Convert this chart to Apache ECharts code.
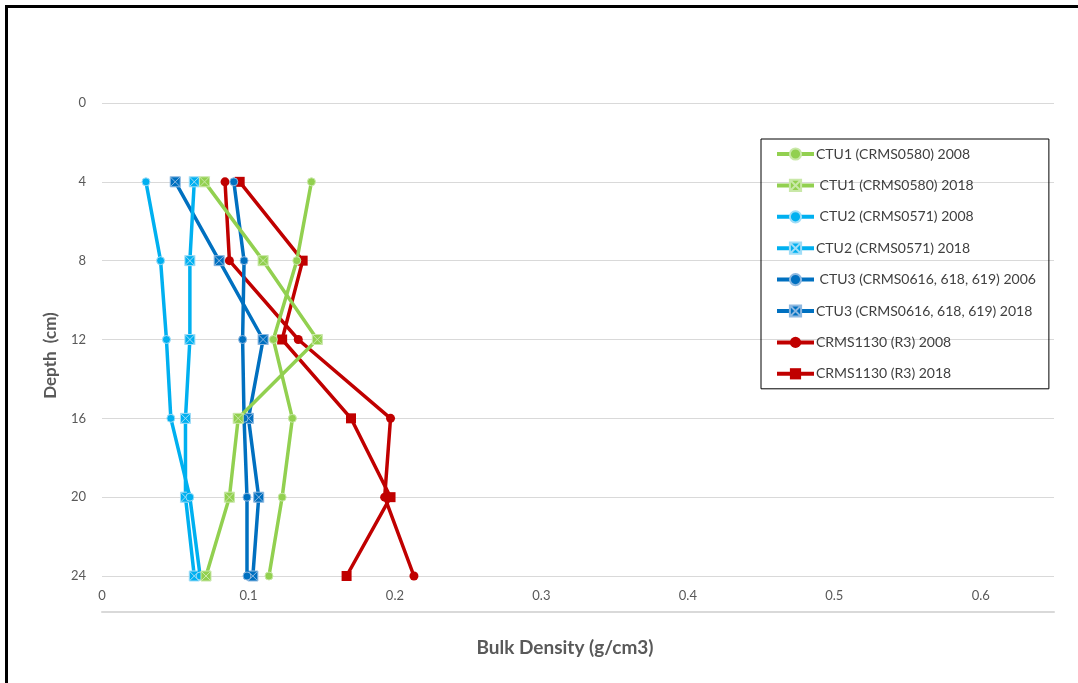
<!DOCTYPE html>
<html>
<head>
<meta charset="utf-8">
<script src="https://cdn.jsdelivr.net/npm/echarts@6/dist/echarts.min.js"></script>
<style>
html,body{margin:0;padding:0;background:#fff;}
#chart{width:1078px;height:683px;}
</style>
</head>
<body>
<div id="chart"></div>
<script>
// Depths (cm)
var depths = [4, 8, 12, 16, 20, 24];
var yTicks = [0, 4, 8, 12, 16, 20, 24];
var xTicks = [0, 0.1, 0.2, 0.3, 0.4, 0.5, 0.6];

var seriesNames = [
  'CTU1 (CRMS0580) 2008',
  ' CTU1 (CRMS0580) 2018',
  ' CTU2 (CRMS0571) 2008',
  'CTU2 (CRMS0571) 2018',
  ' CTU3 (CRMS0616, 618, 619) 2006',
  'CTU3 (CRMS0616, 618, 619) 2018',
  'CRMS1130 (R3) 2008',
  'CRMS1130 (R3) 2018'
];

// Bulk density (g/cm3) at each depth
var ctu1_2008 = [0.143, 0.133, 0.117, 0.130, 0.123, 0.114];
var ctu1_2018 = [0.070, 0.110, 0.147, 0.093, 0.087, 0.071];
var ctu2_2008 = [0.030, 0.040, 0.044, 0.047, 0.060, 0.067];
var ctu2_2018 = [0.063, 0.060, 0.060, 0.057, 0.057, 0.063];
var ctu3_2006 = [0.090, 0.097, 0.096, 0.097, 0.099, 0.099];
var ctu3_2018 = [0.050, 0.080, 0.110, 0.100, 0.107, 0.103];
var crms_2008 = [0.084, 0.087, 0.134, 0.197, 0.193, 0.213];
var crms_2018 = [0.094, 0.137, 0.123, 0.170, 0.197, 0.167];

var values = [ctu1_2008, ctu1_2018, ctu2_2008, ctu2_2018, ctu3_2006, ctu3_2018, crms_2008, crms_2018];
var colors = ['#92D050', '#92D050', '#00B0F0', '#00B0F0', '#0070C0', '#0070C0', '#C00000', '#C00000'];
var lightColors = ['#C9E8A8', '#C9E8A8', '#9FDDF7', '#9FDDF7', '#8DB8E0', '#8DB8E0', '#C00000', '#C00000'];
var xSquare = 'path://M0,0H10V10H0Z M0,0L10,10 M10,0L0,10';
var symbols = ['circle', xSquare, 'circle', xSquare, 'circle', xSquare, 'circle', 'rect'];
var symbolSizes = [8, 10, 8, 10, 8, 10, 9, 10];

function pairs(vals) {
  return vals.map(function (v, i) { return [v, depths[i]]; });
}

var series = values.map(function (vals, i) {
  return {
    name: seriesNames[i],
    type: 'line',
    data: pairs(vals),
    xAxisIndex: 0,
    symbol: symbols[i],
    symbolSize: symbolSizes[i],
    lineStyle: { color: colors[i], width: 3.5 },
    itemStyle: { color: colors[i], borderColor: lightColors[i], borderWidth: i >= 6 ? 0 : 1 },
    emphasis: { disabled: true },
    z: 10 - i
  };
});

var chart = echarts.init(document.getElementById('chart'), null, { renderer: 'canvas' });
var font = 'Lato, "Open Sans", sans-serif';
chart.setOption({
  backgroundColor: '#fff',
  animation: false,
  textStyle: { fontFamily: font },
  grid: { left: 102, right: 24, top: 103, bottom: 107, containLabel: false },
  legend: {
    orient: 'vertical',
    left: 761,
    top: 139,
    padding: [8, 13, 8, 14],
    itemGap: 17.4,
    itemWidth: 37,
    itemHeight: 14,
    borderColor: '#000',
    borderWidth: 1,
    backgroundColor: 'transparent',
    lineStyle: { width: 4 },
    textStyle: { color: '#404040', fontSize: 14, fontFamily: font, padding: [0, 0, 0, -3] },
    data: seriesNames
  },
  xAxis: [{
    type: 'value',
    min: 0,
    max: 0.65,
    interval: 0.1,
    position: 'bottom',
    name: 'Bulk Density (g/cm3)',
    nameLocation: 'middle',
    nameGap: 62,
    nameTextStyle: { color: '#595959', fontSize: 19, fontWeight: 'bold', padding: [0, 26, 0, 0] },
    axisLine: { show: false },
    axisTick: { show: false },
    splitLine: { show: false },
    axisLabel: {
      color: '#595959', fontSize: 13, margin: 13,
      showMaxLabel: false,
      formatter: function (v) { var t = xTicks.filter(function (x) { return Math.abs(x - v) < 1e-9; }); return t.length ? String(t[0]) : ''; }
    }
  }, {
    type: 'value',
    min: 0,
    max: 0.65,
    position: 'bottom',
    offset: 36,
    axisLine: { show: true, lineStyle: { color: '#D9D9D9', width: 2 } },
    axisTick: { show: false },
    axisLabel: { show: false },
    splitLine: { show: false }
  }],
  yAxis: {
    type: 'value',
    inverse: true,
    min: 0,
    max: 24,
    interval: 4,
    name: 'Depth  (cm)',
    nameLocation: 'middle',
    nameGap: 43,
    nameTextStyle: { color: '#595959', fontSize: 17, fontWeight: 'bold', padding: [0, 32, 0, 0] },
    axisLine: { show: false },
    axisTick: { show: false },
    splitLine: { show: true, lineStyle: { color: '#D9D9D9', width: 1 } },
    axisLabel: {
      color: '#595959', fontSize: 13, margin: 16,
      formatter: function (v) { return yTicks.indexOf(v) >= 0 ? String(v) : ''; }
    }
  },
  graphic: [{
    type: 'rect',
    shape: { x: 6.5, y: 6.5, width: 1100, height: 700 },
    style: { fill: 'none', stroke: '#000', lineWidth: 3 },
    silent: true,
    z: 100
  }],
  series: series
});
</script>
</body>
</html>
